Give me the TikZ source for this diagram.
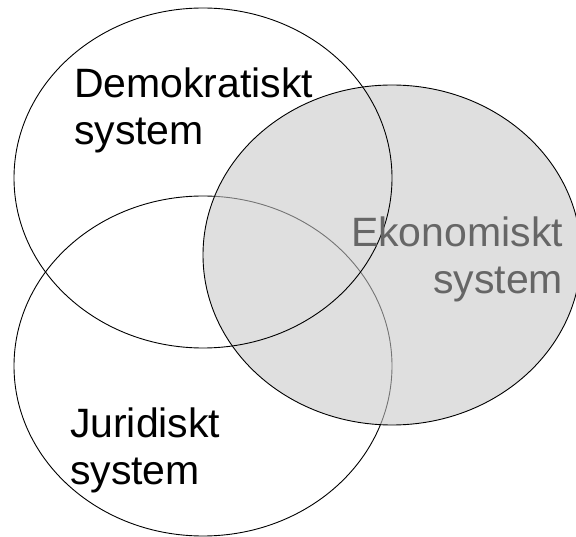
\documentclass[tikz,border=0pt]{standalone}
\usepackage{fontspec}
\setmainfont{Liberation Sans}
\usetikzlibrary{shapes.geometric}
\definecolor{ekofill}{RGB}{200,200,200}
\definecolor{ekotext}{RGB}{102,102,102}
\tikzset{
  systemring/.style={draw=black, line width=0.9pt, ellipse, minimum width=378pt, minimum height=340pt},
  systemtext/.style={font=\fontsize{41}{47}\selectfont}
}
\begin{document}
\begin{tikzpicture}[y=1pt, x=1pt, yscale=-1, inner sep=0pt, outer sep=0pt]
  \useasboundingbox (0,0) rectangle (576,537);
  \node[systemring] (juridik) at (203,366) {};
  \node[systemring, fill=ekofill, fill opacity=0.58] (ekonomi) at (392,255) {};
  \node[systemring] (demokrati) at (203,178) {};
  % base anchor sits on the last line
  \node[systemtext, anchor=base west, align=left] (demotext) at (74,145) {Demokratiskt\\system};
  \node[systemtext, anchor=base east, align=right, text=ekotext] (ekotext) at (563,294) {Ekonomiskt\\system};
  \node[systemtext, anchor=base west, align=left] (jurtext) at (70,484) {Juridiskt\\system};
\end{tikzpicture}
\end{document}
